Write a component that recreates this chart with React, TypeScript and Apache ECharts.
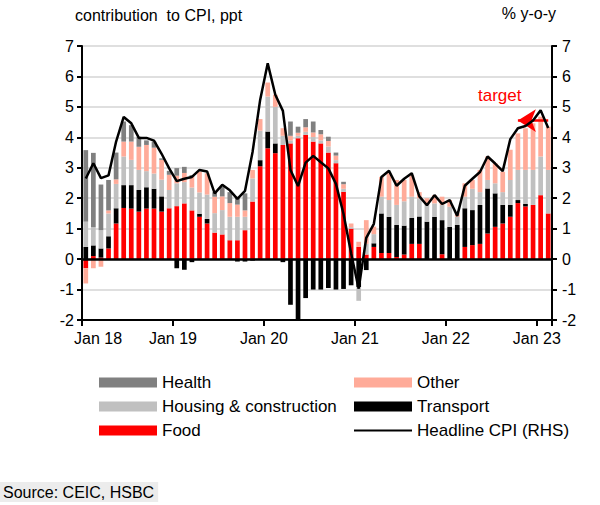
import React, { useEffect, useRef } from "react";
import * as echarts from "echarts";

const years = ["18", "19", "20", "21", "22", "23"];
const monthNames = ["Jan", "Feb", "Mar", "Apr", "May", "Jun", "Jul", "Aug", "Sep", "Oct", "Nov", "Dec"];
const months: string[] = [];
years.forEach((y) => monthNames.forEach((m) => months.push(m + " " + y)));
months.splice(62);

const xTickLabels = ["Jan 18", "Jan 19", "Jan 20", "Jan 21", "Jan 22", "Jan 23"];

const food = [
  -0.3, 0.1, 0.05, 0.35, 1.17, 1.68, 1.66, 1.56, 1.66, 1.66, 1.56, 1.67,
  1.74, 1.83, 1.6, 1.39, 1.17, 0.87, 0.81, 0.62, 0.62, 0.95, 1.89, 3.05,
  3.64, 3.48, 3.75, 3.8, 3.97, 4.08, 3.86, 3.8, 3.5, 3.15, 2.21, 1.0,
  0.4, 0.15, 0.4, 0.2, 0.2, 0.07, 0.15, 0.5, 0.5, 0, 0, 0.16,
  0, 0, 0.4, 0.46, 0.5, 0.84, 1.06, 1.17, 1.39, 1.84, 1.73, 1.78,
  2.1, 1.5,
];
const transport = [
  0.4, 0.35, 0.3, 0.4, 0.5, 0.75, 0.77, 0.71, 0.7, 0.65, 0.5, 0,
  -0.3, -0.35, -0.1, 0.1, 0.15, 0, 0, 0, -0.08, -0.08, -0.05, 0.2,
  0.55, 0.32, -0.1, -1.5, -2.0, -1.28, -1.0, -1.0, -0.95, -1.0, -0.98, -0.86,
  -0.92, -0.36, 0.12, 1.3, 1.19, 1.05, 0.95, 0.85, 0.9, 1.23, 1.39, 1.12,
  1.06, 1.12, 1.27, 1.15, 1.28, 1.48, 1.1, 0.61, 0.39, 0.1, 0.08, 0,
  0, 0,
];
const housing = [
  0.83, 0.6, 0.6, 0.75, 0.8, 0.94, 0.83, 0.66, 0.53, 0.5, 0.55, 0.6,
  0.75, 0.7, 0.75, 0.7, 0.8, 0.64, 0.8, 0.77, 0.77, 0.44, 0.76, 0.97,
  1.15, 1.2, 0.3, 0.1, 0.08, 0.1, 0.15, 0.1, 0.2, 0.1, 0.1, 0.05,
  -0.45, 0.35, 0.3, 0.55, 0.55, 0.66, 0.8, 0.7, 0.6, 0.55, 0.44, 0.5,
  0.66, 0.27, 0.38, 0.7, 0.42, 0.28, 0.33, 0.42, 0.82, 0.99, 1.12, 1.15,
  1.27, 1.43,
];
const other = [
  -0.5, -0.3, -0.25, 0.1, 0.15, 0.49, 0.6, 0.76, 0.86, 0.85, 0.65, 0.5,
  0.25, 0.3, 0.35, 0.68, 0.7, 0.54, 0.45, 0.45, 0.4, 0.21, 0.28, 0.38,
  0.46, 0.4, 0.25, 0.15, 0.1, 0.15, 0.15, 0.2, 0.18, 0.15, 0.15, 0.12,
  0.17, 0.78, 0.25, 0.65, 0.88, 0.82, 0.7, 0.7, 0.2, 0.22, 0.27, 0.27,
  0.22, 0.11, 0.44, 0.29, 0.73, 0.77, 0.66, 0.67, 0.99, 1.2, 1.37, 1.53,
  1.31, 1.42,
];
const health = [
  2.35, 2.44, 1.5, 1.0, 0.88, 0.66, 0.54, 0.33, 0.15, 0.2, 0.05, 0.13,
  0.25, 0.2, 0.06, 0, 0, 0.15, 0.32, 0.36, 0.26, 0.56, 0, 0,
  0, 0, 0, 0.47, 0.2, 0.27, 0.36, 0.14, 0.14, 0.1, 0.08, 0,
  0, 0, 0, 0, 0, 0, 0, 0, 0, 0, 0, 0,
  0, 0, 0, 0, 0, 0, 0, 0, 0, 0, 0, 0,
  0, 0,
];
const headline = [
  2.65, 3.15, 2.66, 2.75, 3.86, 4.67, 4.46, 3.98, 3.98, 3.89, 3.46, 2.98,
  2.56, 2.64, 2.7, 2.93, 2.88, 2.16, 2.44, 2.26, 1.98, 2.24, 3.52, 5.23,
  6.43, 5.4, 4.87, 2.93, 2.4, 3.17, 3.39, 3.18, 2.98, 2.47, 1.48, 0.19,
  -0.97, 0.7, 1.16, 2.7, 2.9, 2.41, 2.64, 2.82, 2.06, 1.77, 2.1, 1.81,
  1.94, 1.42, 2.41, 2.64, 2.86, 3.37, 3.14, 2.89, 3.94, 4.3, 4.37, 4.55,
  4.89, 4.31,
];
const target = 4.55;

const FONT = "'Liberation Sans', Arial, sans-serif";
const C_FOOD = "#ff0000";
const C_TRANSPORT = "#000000";
const C_HOUSING = "#c0c0c0";
const C_OTHER = "#ffab99";
const C_HEALTH = "#808080";

export default function App() {
  const ref = useRef<HTMLDivElement>(null);
  useEffect(() => {
    if (!ref.current) return;
    const chart = echarts.init(ref.current, null, { renderer: "svg" });
    const barBase = {
      type: "bar" as const,
      stack: "cpi",
      barCategoryGap: "38%",
      xAxisIndex: 0,
      yAxisIndex: 0,
    };
    const yAxisCommon = {
      type: "value" as const,
      min: -2,
      max: 7,
      interval: 1,
      axisLine: { show: true, lineStyle: { color: "#000", width: 2 } },
      axisTick: { show: true, length: 5, lineStyle: { color: "#000", width: 2 } },
      axisLabel: { color: "#000", fontSize: 16, fontFamily: FONT },
    };
    chart.setOption({
      animation: false,
      grid: { left: 82, right: 48, top: 46, bottom: 185, containLabel: false },
      xAxis: [
        { type: "category", data: months, show: false, boundaryGap: true },
        {
          type: "value",
          min: 0,
          max: 62,
          interval: 12,
          position: "bottom",
          axisLine: { show: true, onZero: false, lineStyle: { color: "#000", width: 2 } },
          axisTick: { show: true, length: 6, lineStyle: { color: "#000", width: 2 } },
          splitLine: { show: false },
          axisLabel: {
            color: "#000",
            fontSize: 16,
            fontFamily: FONT,
            margin: 10,
            formatter: (v: number) => {
              const i = v / 12;
              if (!Number.isInteger(i) || !xTickLabels[i]) return "";
              return i === 0 ? "{f|" + xTickLabels[i] + "}" : xTickLabels[i];
            },
            rich: { f: { padding: [0, 0, 0, 32], fontSize: 16, fontFamily: FONT, color: "#000" } },
          },
        },
      ],
      yAxis: [
        {
          ...yAxisCommon,
          position: "left",
          axisLabel: { ...yAxisCommon.axisLabel, margin: 8 },
          splitLine: { show: true, lineStyle: { color: "#d4d4d4", width: 1.5 } },
        },
        {
          ...yAxisCommon,
          position: "right",
          axisLabel: { ...yAxisCommon.axisLabel, margin: 10 },
          splitLine: { show: false },
        },
      ],
      legend: [
        {
          orient: "vertical",
          left: 94,
          top: 369,
          itemWidth: 58,
          itemHeight: 10,
          itemGap: 7,
          icon: "rect",
          textStyle: { color: "#000", fontSize: 17, fontFamily: FONT },
          data: ["Health", "Housing & construction", "Food"],
        },
        {
          orient: "vertical",
          left: 348,
          top: 369,
          itemWidth: 58,
          itemHeight: 10,
          itemGap: 7,
          textStyle: { color: "#000", fontSize: 17, fontFamily: FONT },
          data: [
            { name: "Other", icon: "rect" },
            { name: "Transport", icon: "rect" },
            { name: "Headline CPI (RHS)", itemStyle: { opacity: 0 } },
          ],
        },
      ],
      series: [
        {
          ...barBase,
          name: "Food",
          data: food,
          itemStyle: { color: C_FOOD },
          markLine: {
            silent: true,
            symbol: "none",
            label: { show: false },
            lineStyle: { color: "#000", width: 2.5, type: "solid" },
            data: [{ yAxis: 0 }],
          },
        },
        { ...barBase, name: "Transport", data: transport, itemStyle: { color: C_TRANSPORT } },
        { ...barBase, name: "Housing & construction", data: housing, itemStyle: { color: C_HOUSING } },
        { ...barBase, name: "Other", data: other, itemStyle: { color: C_OTHER } },
        { ...barBase, name: "Health", data: health, itemStyle: { color: C_HEALTH } },
        {
          type: "line",
          name: "Headline CPI (RHS)",
          data: headline,
          xAxisIndex: 0,
          yAxisIndex: 1,
          symbol: "none",
          showSymbol: false,
          z: 5,
          itemStyle: { color: "#000" },
          lineStyle: { color: "#000", width: 2.5 },
          markLine: {
            silent: true,
            symbol: ["none", "arrow"],
            symbolSize: [17, 18],
            label: { show: false },
            lineStyle: { color: "#ff0000", width: 2.5, type: "solid" },
            itemStyle: { color: "#ff0000" },
            data: [[{ coord: [months[61], target] }, { coord: [months[57], target] }]],
          },
        },
      ],
      graphic: [
        {
          type: "text",
          left: 75,
          top: 7,
          style: { text: "contribution  to CPI, ppt", fontSize: 16, fontFamily: FONT, fill: "#000" },
        },
        {
          type: "text",
          right: 44,
          top: 5,
          style: { text: "% y-o-y", fontSize: 16, fontFamily: FONT, fill: "#000" },
        },
        {
          type: "text",
          left: 478,
          top: 87,
          style: { text: "target", fontSize: 17, fontFamily: FONT, fill: "#ff0000" },
        },
        {
          type: "text",
          left: 0,
          top: 482,
          style: {
            text: "Source: CEIC, HSBC",
            fontSize: 16,
            fontFamily: FONT,
            fill: "#000",
            backgroundColor: "#ececec",
            padding: [2, 4, 2, 3],
          },
        },
      ],
    });
    return () => chart.dispose();
  }, []);
  return (
    <div
      ref={ref}
      style={{ position: "fixed", left: 0, top: 0, width: 600, height: 505, background: "#fff" }}
    />
  );
}
